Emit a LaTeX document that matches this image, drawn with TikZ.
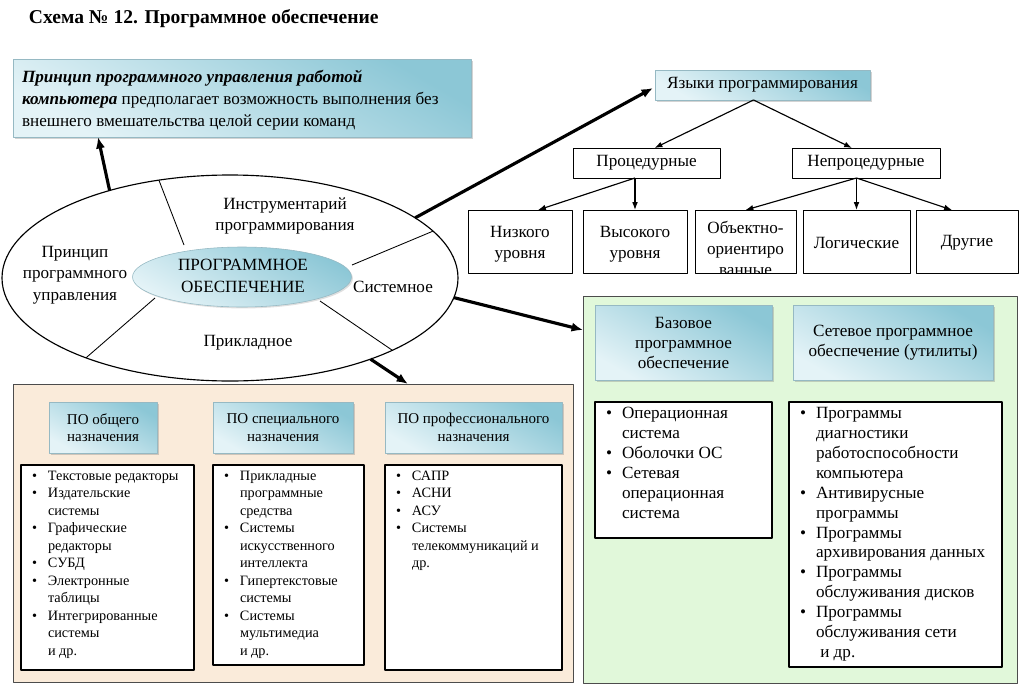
\documentclass[tikz,border=0pt]{standalone}
\usepackage{fontspec}
\setmainfont{Liberation Serif}
\usetikzlibrary{arrows.meta,positioning,calc,fit,shapes.geometric,shadows}
\definecolor{boxdark}{RGB}{140,199,214}
\definecolor{boxlight}{RGB}{228,243,247}
\definecolor{boxedge}{RGB}{150,185,195}
\definecolor{panelbeige}{RGB}{250,235,218}
\definecolor{panelgreen}{RGB}{225,248,218}
\newcommand\bigfont{\fontsize{12}{15.2}\selectfont}
\newcommand\smallfont{\fontsize{10}{12.25}\selectfont}
\newcommand\headfont{\fontsize{10.5}{12.1}\selectfont}
\newcommand\listfont{\fontsize{12}{13.9}\selectfont}
\newcommand\itemsbox[1]{\begin{tabular}{@{}p{11.2pt}@{}l@{}}#1\end{tabular}}

\begin{document}
\begin{tikzpicture}[x=0.7pt, y=-0.7pt, line join=round,
  every node/.style={inner sep=0pt, outer sep=0pt, font=\bigfont},
  every label/.style={align=center},
  bluebox/.style={draw=boxedge, line width=0.5pt, top color=boxdark, bottom color=boxlight,
    shading angle=-30,
    drop shadow={shadow xshift=1.3pt, shadow yshift=-1.3pt, opacity=0.35}},
  plainbox/.style={draw, line width=0.7pt, fill=white},
  listbox/.style={draw, line width=0.9pt, fill=white},
  panel/.style={draw=black!70, line width=0.7pt},
  bigarrow/.style={line width=2.2pt, -{Latex[length=8pt,width=6.5pt]}},
  treearrow/.style={line width=0.8pt, -{Latex[length=5.5pt,width=4pt]}},
  divider/.style={line width=0.6pt}]
\useasboundingbox (0,0) rectangle (1024,688);

% title
\node[anchor=west, font=\fontsize{13.7}{16}\selectfont\bfseries] (title) at (29,19)
  {Схема № 12. Программное обеспечение};

% info box
\node[bluebox, fit={(13,59) (471,137)}] (info) {};
\node[anchor=west, align=left] (infotext) at (22,100)
  {\textbf{\textit{Принцип программного управления работой}}\\
   \textbf{\textit{компьютера}} предполагает возможность выполнения без\\
   внешнего вмешательства целой серии команд};

% central ellipse
\node[ellipse, draw, line width=0.8pt, minimum width=319.2pt, minimum height=144.2pt] (big) at (230,278) {};
\node[ellipse, draw=boxedge, line width=0.4pt, top color=boxdark, bottom color=boxlight,
  shading angle=-30, minimum width=153.3pt, minimum height=42pt,
  drop shadow={shadow xshift=1pt, shadow yshift=-1pt, opacity=0.25}] (core) at (242,277) {};
\draw[divider] (big.126.8) -- (184,245);
\draw[divider] (big.13.4) -- (352,265);
\draw[divider] (big.209.9) -- (155,298);
\draw[divider] (big.-24.9) -- (320,301);
\node[align=center] (coretext) at (243,276) {ПРОГРАММНОЕ\\ОБЕСПЕЧЕНИЕ};
\node[align=center] (tools) at (285,216) {Инструментарий\\программирования};
\node[align=center] (principle) at (75,275) {Принцип\\программного\\управления};
\node (system) at (393,287) {Системное};
\node (applied) at (248,343) {Прикладное};

% languages tree
\node[bluebox, fit={(655,70) (870,100)}, label=center:Языки программирования] (lang) {};
\node[plainbox, fit={(573,148) (720,178)}, label=center:Процедурные] (proc) {};
\node[plainbox, fit={(792,148) (940,178)}, label=center:Непроцедурные] (nonproc) {};
\node[plainbox, fit={(468,210) (572,273)},
  label={[font=\fontsize{12}{14.7}\selectfont, yshift=-2pt]center:Низкого\\уровня}] (low) {};
\node[plainbox, fit={(583,210) (687,273)},
  label={[font=\fontsize{12}{14.7}\selectfont, yshift=-2pt]center:Высокого\\уровня}] (high) {};
\node[plainbox, fit={(695,210) (796,273)},
  path picture={\node[align=center, font=\fontsize{12}{14.7}\selectfont]
    at ($(path picture bounding box.center)+(0,13)$) {Объектно-\\ориентиро\\ванные};}] (obj) {};
\node[plainbox, fit={(803,210) (910,273)}, label={[yshift=-1pt]center:Логические}] (logic) {};
\node[plainbox, fit={(916,210) (1018,273)}, label={[yshift=-1pt]center:Другие}] (other) {};
\coordinate (ls) at ($(lang.south)+(-9,0)$);
\coordinate (ps) at (high.north |- proc.south);
\coordinate (ns) at (logic.north |- nonproc.south);
\draw[treearrow] (ls) -- ($(proc.north)+(8,0)$);
\draw[treearrow] (ls) -- ($(nonproc.north)+(-14,0)$);
\draw[treearrow] (ps) -- ($(low.north)+(18,0)$);
\draw[treearrow] (ps) -- (high.north);
\draw[treearrow] (ns) -- (obj.north);
\draw[treearrow] (ns) -- (logic.north);
\draw[treearrow] (ns) -- ($(other.north)+(-15,0)$);

% applied software panel
\node[panel, fill=panelbeige, fit={(13,384) (573,682)}] (applpanel) {};
\node[bluebox, fit={(49,402) (157,453)},
  label={[font=\headfont]center:ПО общего\\назначения}] (gen) {};
\node[bluebox, fit={(213,402) (353,453)},
  label={[font=\headfont]center:ПО специального\\назначения}] (spec) {};
\node[bluebox, fit={(385,402) (562,453)},
  label={[font=\headfont]center:ПО профессионального\\назначения}] (prof) {};
\node[listbox, fit={(21,465) (194,670)}] (genlist) {};
\node[listbox, fit={(213,465) (364,665)}] (speclist) {};
\node[listbox, fit={(385,465) (562,670)}] (proflist) {};
\node[anchor=north west, font=\smallfont] (genitems) at ($(genlist.north west)+(11,3)$)
  {\itemsbox{\textbullet & Текстовые редакторы\\ \textbullet & Издательские\\ & системы\\
   \textbullet & Графические\\ & редакторы\\ \textbullet & СУБД\\ \textbullet & Электронные\\ & таблицы\\
   \textbullet & Интегрированные\\ & системы\\ & и др.}};
\node[anchor=north west, font=\smallfont] (specitems) at ($(speclist.north west)+(11,3)$)
  {\itemsbox{\textbullet & Прикладные\\ & программные\\ & средства\\
   \textbullet & Системы\\ & искусственного\\ & интеллекта\\
   \textbullet & Гипертекстовые\\ & системы\\ \textbullet & Системы\\ & мультимедиа\\ & и др.}};
\node[anchor=north west, font=\smallfont] (profitems) at ($(proflist.north west)+(11,3)$)
  {\itemsbox{\textbullet & САПР\\ \textbullet & АСНИ\\ \textbullet & АСУ\\
   \textbullet & Системы\\ & телекоммуникаций и\\ & др.}};

% system software panel
\node[panel, fill=panelgreen, fit={(583,296) (1017,683)}] (syspanel) {};
\node[bluebox, fit={(595,305) (772,380)},
  label={[font=\fontsize{12}{14}\selectfont]center:Базовое\\программное\\обеспечение}] (base) {};
\node[bluebox, fit={(793,305) (993,380)},
  label={[font=\fontsize{12}{14}\selectfont]center:Сетевое программное\\обеспечение (утилиты)}] (net) {};
\node[listbox, fit={(595,402) (772,538)}] (baselist) {};
\node[listbox, fit={(789,402) (1002,667)}] (netlist) {};
\node[anchor=north west, font=\listfont] (baseitems) at ($(baselist.north west)+(11,3)$)
  {\itemsbox{\textbullet & Операционная\\ & система\\ \textbullet & Оболочки ОС\\
   \textbullet & Сетевая\\ & операционная\\ & система}};
\node[anchor=north west, font=\listfont] (netitems) at ($(netlist.north west)+(11,3)$)
  {\itemsbox{\textbullet & Программы\\ & диагностики\\ & работоспособности\\ & компьютера\\
   \textbullet & Антивирусные\\ & программы\\ \textbullet & Программы\\ & архивирования данных\\
   \textbullet & Программы\\ & обслуживания дисков\\ \textbullet & Программы\\ & обслуживания сети\\ & \ и др.}};

% main arrows
\draw[bigarrow] (big.144.7) -- ($(info.south west)+(85,0)$);
\draw[bigarrow] (big.18.6) -- ($(lang.west)+(-2,3)$);
\draw[bigarrow] (big.-5.1) -- ($(syspanel.north west)+(0,34)$);
\draw[bigarrow] (big.-30) -- ($(applpanel.north west)+(395,0)$);
\end{tikzpicture}
\end{document}
